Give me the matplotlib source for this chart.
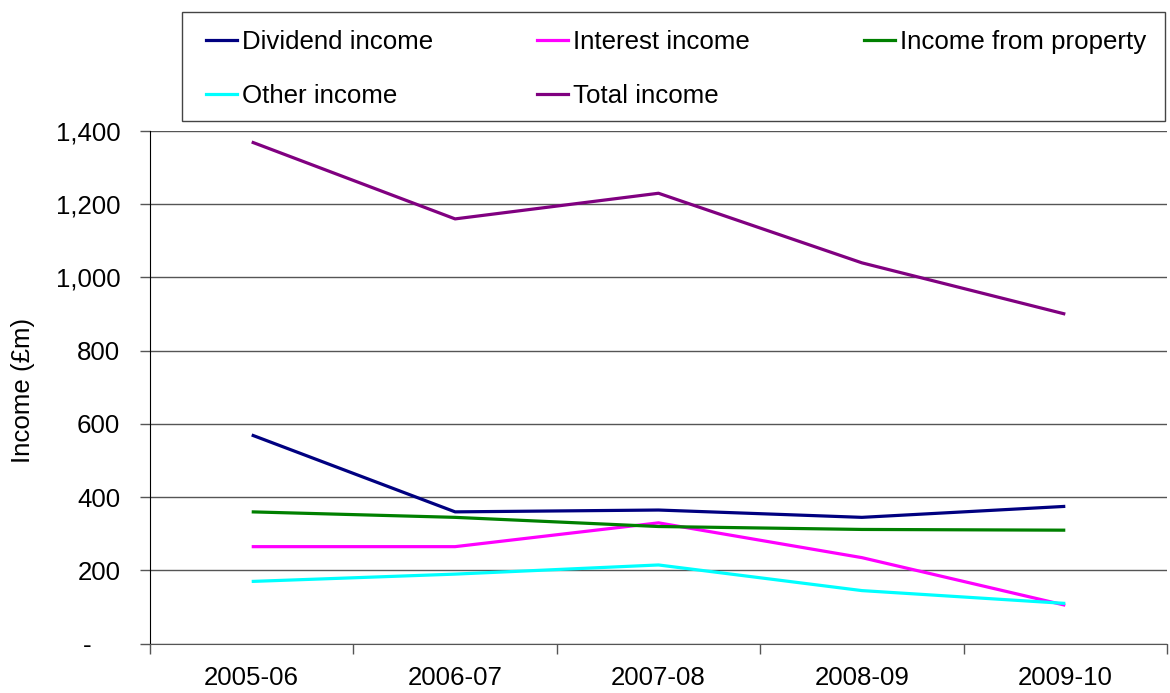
import matplotlib
matplotlib.use("Agg")
import matplotlib.pyplot as plt
from matplotlib.lines import Line2D
from matplotlib.patches import Rectangle
from matplotlib.ticker import FixedLocator, FuncFormatter

plt.rcParams["font.family"] = ["Liberation Sans", "DejaVu Sans"]

years = ["2005-06", "2006-07", "2007-08", "2008-09", "2009-10"]
dividend = [570, 360, 365, 345, 375]
interest = [265, 265, 330, 235, 105]
prop = [360, 345, 320, 312, 310]
other = [170, 190, 215, 145, 110]
total = [1370, 1160, 1230, 1040, 900]

series = [
    ("Dividend income", dividend, "#000080"),
    ("Interest income", interest, "#FF00FF"),
    ("Income from property", prop, "#008000"),
    ("Other income", other, "#00FFFF"),
    ("Total income", total, "#800080"),
]

W, H = 1170, 693
fig = plt.figure(figsize=(W / 100, H / 100), dpi=100)
ax = fig.add_axes([150 / W, 1 - 643.7 / H, (1167 - 150) / W, (643.7 - 131) / H])

fs = 18.6
x = list(range(len(years)))
for name, vals, col in series:
    ax.plot(x, vals, color=col, lw=2.3, solid_capstyle="butt")

ax.set_xlim(-0.5, len(years) - 0.5)
ax.set_ylim(0, 1400)

# y axis: gridlines every 200, zero shown as a dash
ax.yaxis.set_major_locator(FixedLocator(range(0, 1401, 200)))
ax.yaxis.set_major_formatter(FuncFormatter(lambda v, p: "-    " if v == 0 else f"{int(v):,}"))
ax.grid(axis="y", color="#555555", lw=1.0)
ax.tick_params(axis="y", length=7, width=1, color="#555555", labelsize=fs, pad=14.4)

# x axis: ticks between categories, labels centred on categories
ax.xaxis.set_major_locator(FixedLocator([i - 0.5 for i in range(len(years) + 1)]))
ax.xaxis.set_major_formatter(FuncFormatter(lambda v, p: ""))
ax.xaxis.set_minor_locator(FixedLocator(x))
ax.set_xticklabels(years, minor=True)
ax.tick_params(axis="x", which="major", length=7, width=1, color="#555555")
ax.tick_params(axis="x", which="minor", length=0, labelsize=fs, pad=16)

for s in ("top", "right"):
    ax.spines[s].set_visible(False)
ax.spines["left"].set_color("black")
ax.spines["bottom"].set_color("#555555")
ax.set_axisbelow(True)

fig.text(23 / W, 1 - 390 / H, "Income (£m)", fontsize=fs, rotation=90,
         ha="center", va="center")

# legend box above the plot
fig.add_artist(Rectangle((182 / W, 1 - 121 / H), (1165 - 182) / W, (121 - 12) / H,
                         transform=fig.transFigure, fill=False, ec="#444444", lw=1.0))
cols = [206, 537, 864]
rows = [40, 94]
for i, (name, vals, col) in enumerate(series):
    cx = cols[i % 3]
    cy = 1 - rows[i // 3] / H
    fig.add_artist(Line2D([cx / W, (cx + 31) / W], [cy, cy], color=col, lw=2.3,
                          transform=fig.transFigure))
    fig.text((cx + 36) / W, cy - 2 / H, name, fontsize=fs, va="center", ha="left")

fig.savefig("out.png", dpi=100)
